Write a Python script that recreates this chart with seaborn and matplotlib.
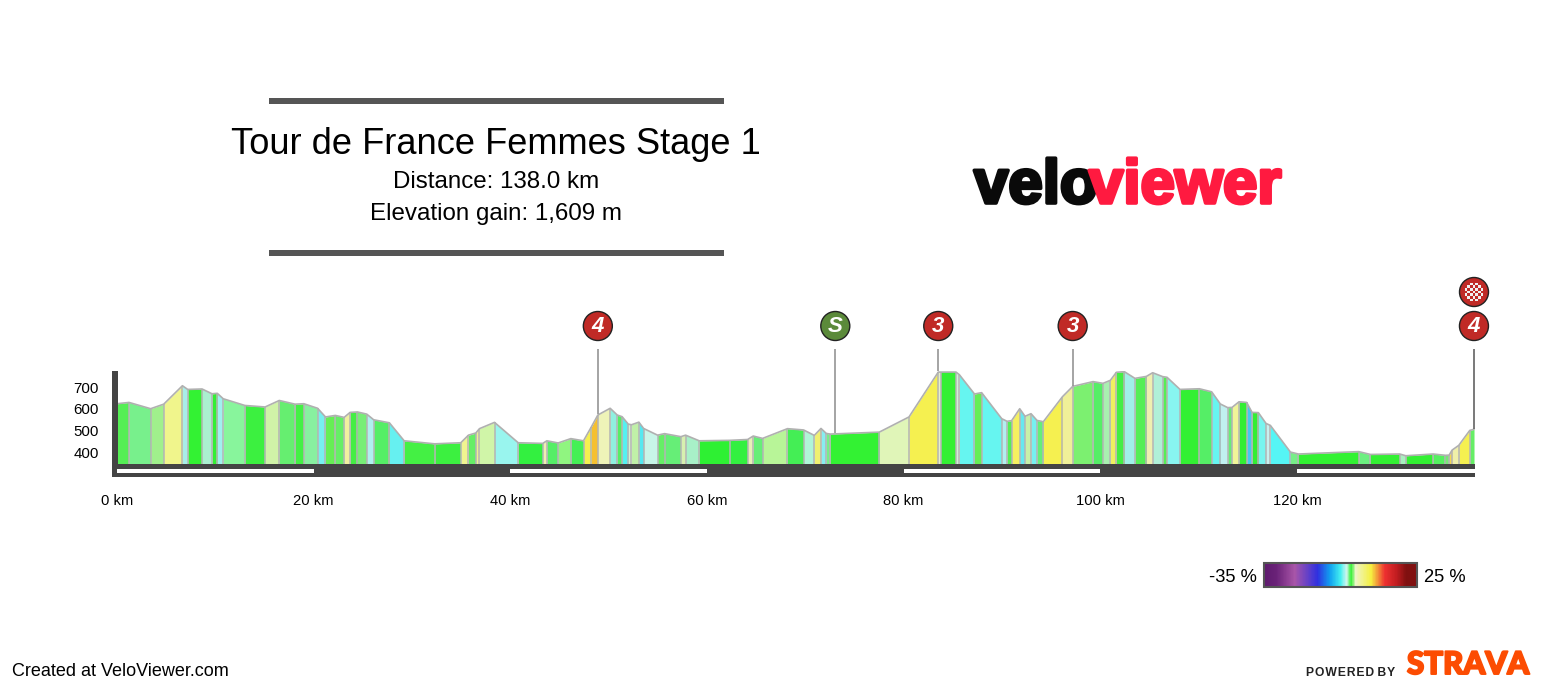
import numpy as np
import matplotlib
matplotlib.use('Agg')
import matplotlib.pyplot as plt
import matplotlib.patheffects as pe
from matplotlib.colors import LinearSegmentedColormap
from matplotlib.patches import Circle, Rectangle
import seaborn as sns

sns.set_theme(style='white')
plt.rcParams['font.family'] = ['Liberation Sans', 'DejaVu Sans']

# profile points
km = [0, 1.22, 3.42, 4.75, 6.65, 7.19, 8.65, 9.66, 10.2, 10.8,
      13.0, 15.06, 16.5, 18.1, 19.0, 20.4, 21.2, 22.2, 23.1, 23.7,
      24.45, 25.4, 26.1, 27.7, 29.2, 32.3, 34.96, 35.74, 36.49, 36.86,
      38.39, 40.8, 43.3, 43.71, 44.86, 46.15, 47.44, 48.25, 48.9, 50.15,
      50.87, 51.37, 51.99, 52.32, 53.07, 53.55, 54.97, 55.68, 57.34, 57.82,
      59.21, 62.29, 64.13, 64.7, 65.65, 68.18, 69.82, 70.91, 71.59, 72.13,
      72.54, 77.52, 80.54, 83.52, 83.83, 85.32, 85.66, 87.2, 87.93, 89.97,
      90.51, 90.98, 91.8, 92.34, 92.95, 93.56, 94.2, 96.14, 97.19, 99.26,
      100.27, 101.02, 101.63, 102.44, 103.52, 104.68, 105.32, 106.34, 106.78, 108.1,
      110.07, 111.32, 112.2, 112.95, 113.39, 114.1, 114.88, 115.43, 116.07, 116.85,
      117.29, 119.33, 120.14, 126.28, 127.47, 130.45, 131.06, 133.84, 135.1, 135.47,
      135.77, 136.45, 137.57, 138.0]
elevation = [623, 629, 600, 621, 706, 689, 691, 669, 671, 646,
             615, 608, 638, 621, 623, 602, 562, 569, 560, 583,
             585, 575, 549, 535, 452, 438, 443, 478, 488, 508,
             537, 443, 440, 452, 442, 462, 452, 517, 571, 602,
             571, 563, 529, 526, 538, 509, 478, 485, 471, 478,
             452, 454, 458, 474, 463, 508, 502, 477, 509, 486,
             483, 492, 562, 769, 769, 769, 757, 668, 674, 554,
             542, 545, 600, 565, 577, 546, 540, 655, 703, 725,
             717, 731, 768, 771, 740, 749, 766, 748, 745, 689,
             692, 678, 622, 605, 606, 632, 629, 583, 582, 532,
             523, 400, 391, 402, 389, 391, 383, 391, 385, 386,
             409, 431, 500, 505]
segment_colors = ['#55ee55', '#78f08c', '#a0f08c', '#f0f58c', '#a8eee8', '#33f233', '#aaf0d0', '#33ee33', '#a0f0f0',
                  '#88f59c', '#3cf040', '#d0f3a8', '#66ee70', '#44f044', '#88f0a0', '#77f0f0', '#66ee55', '#66ee66', '#f0f0a0',
                  '#44ee44', '#77ee77', '#b0f0f0', '#55ee66', '#66f0f0', '#44f044', '#3cf040', '#f0f590', '#66ee66', '#f0f090',
                  '#d0f5a8', '#99f5ee', '#33f040', '#f0f0b0', '#55ee66', '#90f580', '#44f055', '#f5f050', '#f5c030', '#eef3b8',
                  '#90f0e0', '#55ee66', '#55f0f0', '#d8f0d0', '#c0f0a8', '#55e8f0', '#c8f5e8', '#66ee66', '#66ee77', '#d8f0b0',
                  '#a8f0c8', '#2ef033', '#33f040', '#e8f0b8', '#66ee77', '#b8f598', '#44ee55', '#b0f5d8', '#f0f070', '#88eef0',
                  '#77ee88', '#33f233', '#e0f5b8', '#f5f050', '#e8f0c8', '#33f033', '#d0f0d8', '#66f5f0', '#66ee55', '#66f5f0',
                  '#b0f0f0', '#55ee55', '#f5f060', '#66e8f0', '#c8f0a8', '#77f0f0', '#66ee77', '#f5f050', '#f0f098', '#7cf070',
                  '#55ee66', '#a8f0b0', '#f0f060', '#44ee44', '#a0f0e8', '#55ee55', '#f0f0b0', '#b0f0d8', '#55ee55', '#88f5f0',
                  '#33f033', '#55ee66', '#66f5f0', '#c0f0f0', '#66ee77', '#f0f598', '#33ee33', '#44c8f0', '#33ee33', '#77f5f0',
                  '#c8f0f0', '#55f5f5', '#77ee88', '#33f233', '#6cf080', '#33f033', '#a8f0c0', '#33f033', '#55f060', '#77e877',
                  '#f5d850', '#f0f0a8', '#f5f050', '#66ee66']

km_ticks = [0, 20, 40, 60, 80, 100, 120]
elevation_ticks = [400, 500, 600, 700]
# km position of each climb / sprint marker, and what is written on it
marker_km = [48.9, 73.05, 83.52, 97.19, 138.0]
marker_text = ['4', 'S', '3', '3', '4']
marker_color = ['#c02a26', '#5b8a3a', '#c02a26', '#c02a26', '#c02a26']

gradient_stops = [(0.0, '#5e1a6e'), (0.08, '#6a2278'), (0.2, '#a855a8'), (0.35, '#2f30e0'), (0.43, '#10a0f0'),
                  (0.5, '#44f0f0'), (0.54, '#d0f5f0'), (0.57, '#33f033'), (0.6, '#eef5c8'), (0.7, '#f5f040'),
                  (0.79, '#ee3030'), (0.87, '#c01c20'), (0.93, '#801010'), (1.0, '#801010')]

DARK = '#444444'
BASE = 345

fig = plt.figure(figsize=(15.48, 6.9), dpi=100)

# profile axes, px 112-1475 across and 371-477 down
ax = fig.add_axes([112 / 1548, 1 - 477 / 690, (1475 - 112) / 1548, (477 - 371) / 690])
ax.set_xlim(-0.51, 138.1)
ax.set_ylim(285, 774)

for i, c in enumerate(segment_colors):
    ax.fill_between(km[i:i + 2], BASE, elevation[i:i + 2], color=c, linewidth=0, zorder=1)
ax.vlines(km[1:-1], BASE, elevation[1:-1], color='#b4b4b4', linewidth=1.1, zorder=2)
sns.lineplot(x=km, y=elevation, color='#b0b0b0', linewidth=1.2, ax=ax, zorder=3)

ax.axhspan(285, BASE, color=DARK, linewidth=0, zorder=4)
ax.fill_between([-0.51, 0.05], BASE, 774, color=DARK, linewidth=0, zorder=4)
for start in km_ticks[::2]:
    ax.fill_between([start, min(start + 20, 138.1)], 305, 323, color='white', linewidth=0, zorder=5)

for m, c in zip(marker_km, ['#8c8c8c', '#8c8c8c', '#8c8c8c', '#8c8c8c', '#555555']):
    top = np.interp(m, km, elevation)
    ax.vlines(m, top + 3, 345 + (464 - 349) / 0.2168, color=c, linewidth=1.1, zorder=3, clip_on=False)

ax.set_xticks(km_ticks, [f'{k} km' for k in km_ticks])
ax.set_yticks(elevation_ticks, [str(e) for e in elevation_ticks])
ax.tick_params(axis='x', length=0, pad=12.5, labelsize=10.6, labelcolor='black')
ax.tick_params(axis='y', length=0, pad=9.5, labelsize=10.8, labelcolor='black')
sns.despine(ax=ax, left=True, bottom=True)
ax.patch.set_alpha(0)

# colour scale
cax = fig.add_axes([1264 / 1548, 1 - 587 / 690, (1417 - 1264) / 1548, 24 / 690])
scale_cmap = LinearSegmentedColormap.from_list('slope', gradient_stops)
sns.heatmap(np.linspace(-35, 25, 256).reshape(1, -1), cmap=scale_cmap, vmin=-35, vmax=25,
            cbar=False, xticklabels=False, yticklabels=False, ax=cax, rasterized=True)
cax.add_patch(Rectangle((0, 0), 256, 1, fill=False, edgecolor='#555555', linewidth=1.5, clip_on=False))

# everything else sits in a pixel overlay
ov = fig.add_axes([0, 0, 1, 1], zorder=10)
ov.set_xlim(0, 1548)
ov.set_ylim(690, 0)
ov.axis('off')

for y in [101, 253]:
    ov.add_patch(Rectangle((269, y - 3), 455, 6, color='#555555', linewidth=0))
ov.text(495.5, 144, 'Tour de France Femmes Stage 1', ha='center', va='center', fontsize=26.1, color='black')
ov.text(496.5, 182, 'Distance: 138.0 km', ha='center', va='center', fontsize=17.4, color='black')
ov.text(496.5, 214, 'Elevation gain: 1,609 m', ha='center', va='center', fontsize=17.4, color='black')

# logo, thickened with a stroke of its own colour
logo_stroke = 2.6
ov.text(974, 203, 'velo', ha='left', va='baseline', fontsize=44.5, fontweight='bold', color='#0a0a0a',
        path_effects=[pe.withStroke(linewidth=logo_stroke, foreground='#0a0a0a')])
ov.text(1089, 203, 'viewer', ha='left', va='baseline', fontsize=44.5, fontweight='bold', color='#ff1a40',
        path_effects=[pe.withStroke(linewidth=logo_stroke, foreground='#ff1a40')])

for m, t, c in zip(marker_km, marker_text, marker_color):
    x = 117 + m * 9.833
    ov.add_patch(Circle((x, 326), 14.5, facecolor=c, edgecolor='#222222', linewidth=1))
    ov.text(x, 326.5, t, ha='center', va='center', fontsize=16, color='white', fontweight='bold', style='italic')

# finish flag marker
fx, fy = 1474, 292
ov.add_patch(Circle((fx, fy), 14.5, facecolor='#c02a26', edgecolor='#222222', linewidth=1))
for row in range(-3, 4):
    for col in range(-3, 4):
        if (row + col) % 2 == 0 and abs(row) + abs(col) < 6:
            ov.add_patch(Rectangle((fx + col * 2.7 - 1.35, fy + row * 2.7 - 1.35), 2.7, 2.7,
                                   facecolor='#f0f0f0', linewidth=0))

ov.text(1257, 577, '-35 %', ha='right', va='center', fontsize=13.2, color='black')
ov.text(1424, 577, '25 %', ha='left', va='center', fontsize=13.2, color='black')
ov.text(12, 672, 'Created at VeloViewer.com', ha='left', va='center', fontsize=13, color='black')
powered = ' '.join('\u200a'.join(word) for word in ['POWERED', 'BY'])
ov.text(1306, 672.5, powered, ha='left', va='center', fontsize=8.7, fontweight='bold', color='#222222')
ov.text(1407, 665, 'STRAVA', ha='left', va='center', fontsize=22.5, fontweight='black', color='#fc4c02', family='Lato',
        path_effects=[pe.withStroke(linewidth=1.4, foreground='#fc4c02')])

fig.savefig('out.png', dpi=100, facecolor='white')
